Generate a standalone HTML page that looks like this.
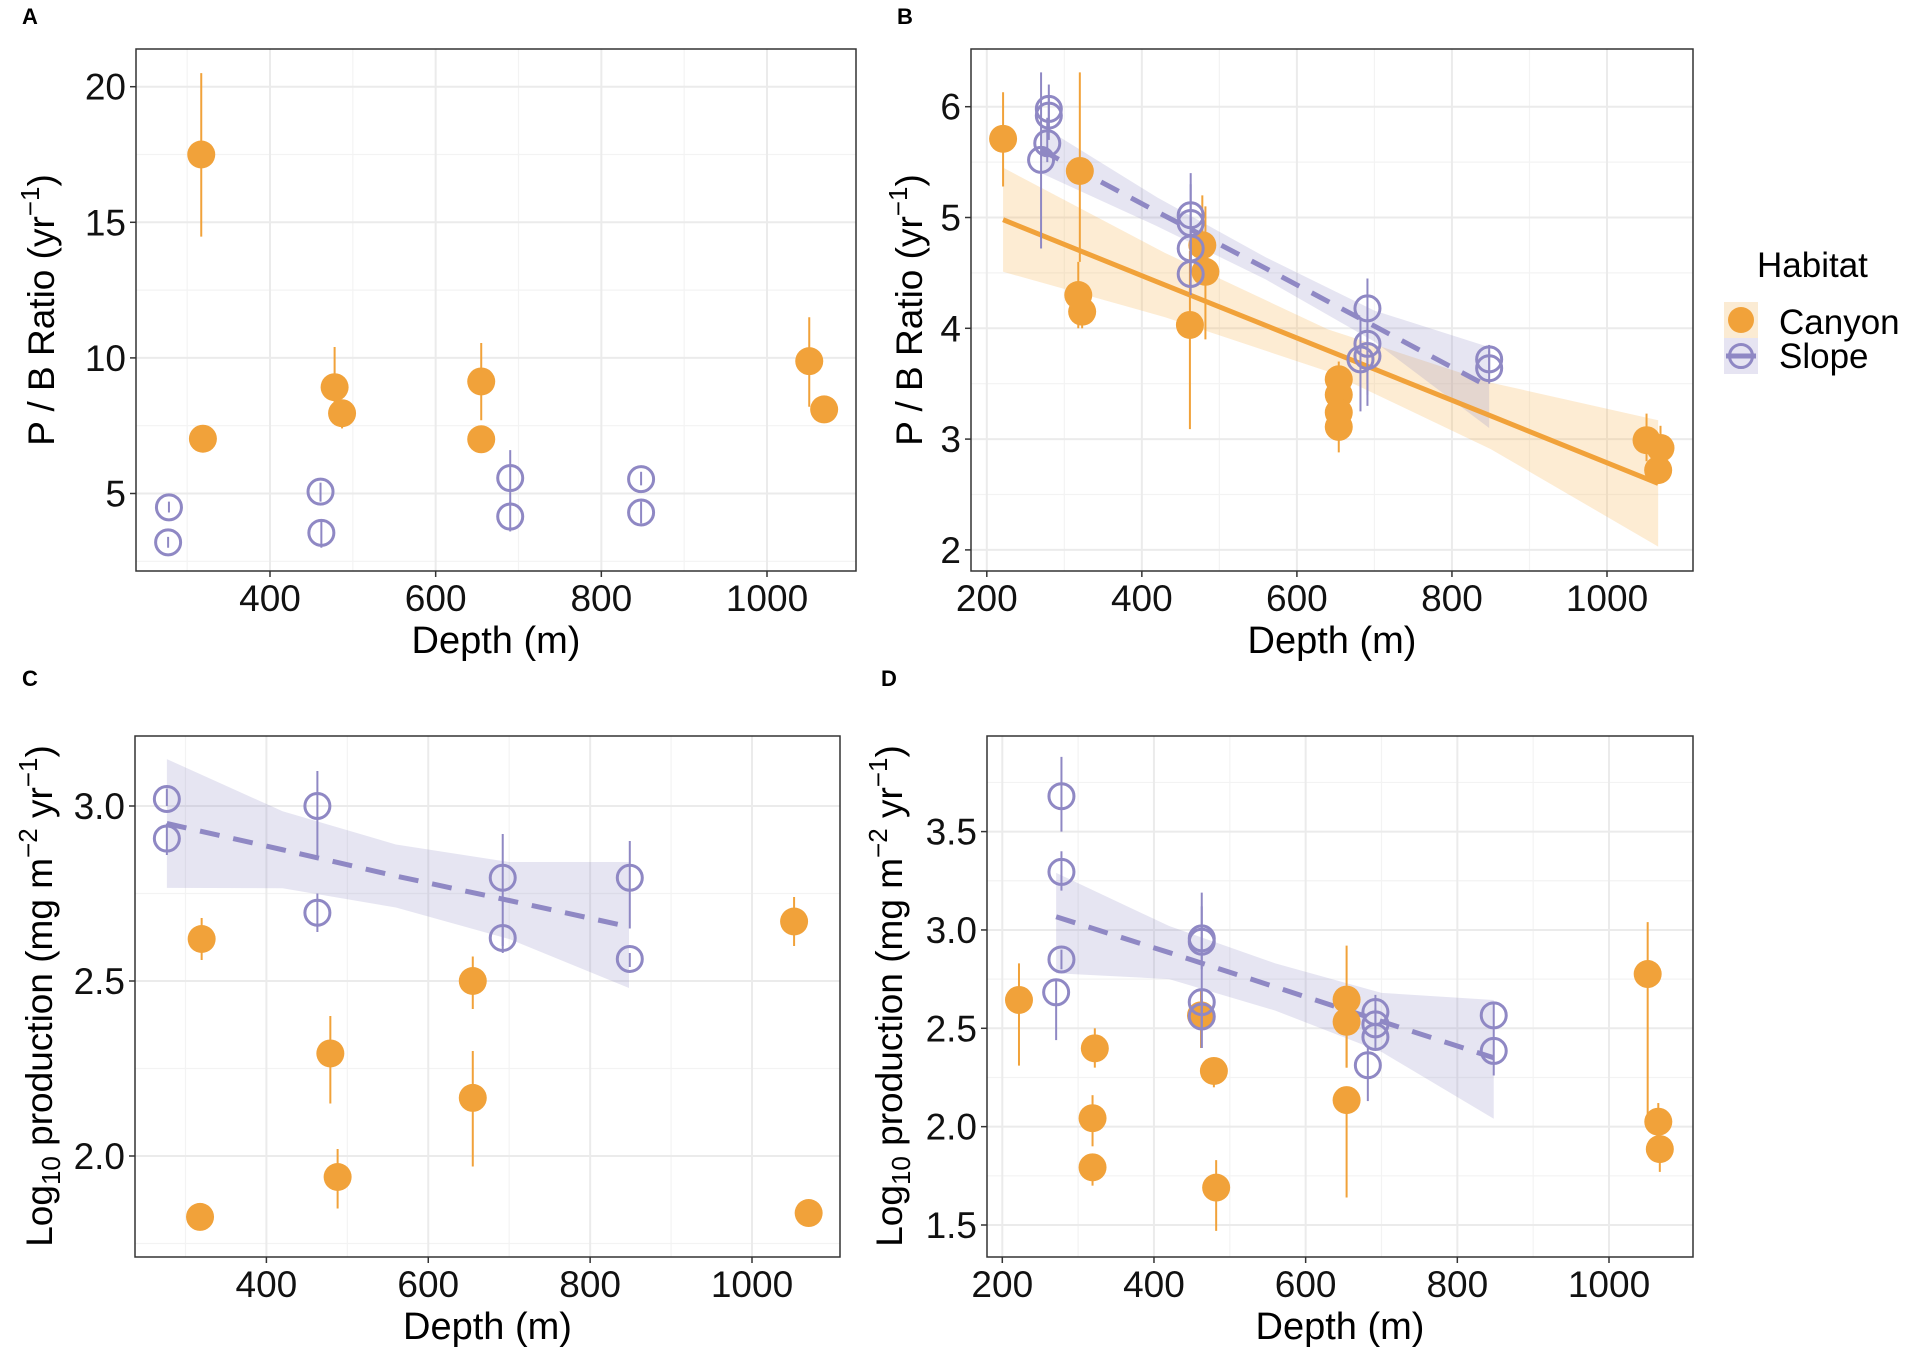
<!DOCTYPE html>
<html><head><meta charset="utf-8"><style>
html,body{margin:0;padding:0;background:#fff;}
svg{display:block;font-family:"Liberation Sans",Arial,sans-serif;}
</style></head><body>
<svg id="fig" width="1912" height="1351" viewBox="0 0 1912 1351" xmlns="http://www.w3.org/2000/svg"></svg>
<script>
// ---------- Panel A data ----------
const aCanyonDepth=[317,319,478,487,655,655,1051,1069];
const aCanyonVal=[17.5,7.02,8.92,7.96,9.13,7.0,9.88,8.1];
const aCanyonLo=[14.47,6.6,8.0,7.4,7.7,6.6,8.2,7.8];
const aCanyonHi=[20.5,7.5,10.4,8.2,10.55,7.4,11.5,8.4];
const aSlopeDepth=[278,277,461,462,690,690,848,848];
const aSlopeVal=[4.49,3.2,5.07,3.55,5.57,4.15,5.53,4.3];
const aSlopeLo=[4.3,3.0,4.7,3.0,4.6,3.6,5.3,3.9];
const aSlopeHi=[4.7,3.4,5.4,4.0,6.6,4.7,5.8,4.7];
const aXTicks=[400,600,800,1000];
const aYTicks=[5,10,15,20];
// ---------- Panel B data ----------
const bCanyonDepth=[221,320,318,323,462,478,482,654,654,654,654,1051,1069,1066];
const bCanyonVal=[5.71,5.42,4.30,4.15,4.03,4.75,4.51,3.54,3.40,3.24,3.11,2.99,2.92,2.72];
const bCanyonLo=[5.28,4.6,4.0,4.0,3.09,4.4,3.9,3.4,3.3,3.0,2.88,2.8,2.8,2.6];
const bCanyonHi=[6.13,6.31,4.6,4.3,4.7,5.2,5.1,3.7,3.5,3.4,3.3,3.23,3.12,2.9];
const bSlopeDepth=[280,280,278,270,463,463,463,463,691,691,691,682,848,848];
const bSlopeVal=[5.98,5.92,5.67,5.52,5.02,4.95,4.72,4.49,4.18,3.86,3.75,3.72,3.72,3.64];
const bSlopeLo=[5.8,5.7,5.5,4.72,4.6,4.6,4.5,4.3,3.4,3.5,3.3,3.25,3.6,3.5];
const bSlopeHi=[6.2,6.1,5.9,6.31,5.4,5.3,5.0,4.7,4.45,4.1,4.0,4.1,3.85,3.8];
const bCanyonFitX=[221,430,640,850,1066];
const bCanyonFitY=[4.98,4.39,3.80,3.21,2.60];
const bCanyonFitHi=[5.45,4.68,3.99,3.51,3.17];
const bCanyonFitLo=[4.51,4.10,3.61,2.91,2.03];
const bSlopeFitX=[270,420,560,700,848];
const bSlopeFitY=[5.61,5.05,4.54,4.02,3.47];
const bSlopeFitHi=[5.83,5.18,4.64,4.16,3.83];
const bSlopeFitLo=[5.40,4.92,4.44,3.88,3.10];
const bXTicks=[200,400,600,800,1000];
const bYTicks=[2,3,4,5,6];
// ---------- Panel C data ----------
const cCanyonDepth=[320,318,479,488,655,655,1052,1070];
const cCanyonVal=[2.62,1.826,2.293,1.94,2.50,2.166,2.67,1.837];
const cCanyonLo=[2.56,1.80,2.15,1.85,2.42,1.97,2.60,1.82];
const cCanyonHi=[2.68,1.85,2.40,2.02,2.57,2.30,2.74,1.86];
const cSlopeDepth=[277,277,463,463,692,692,849,849];
const cSlopeVal=[3.02,2.907,3.0,2.695,2.795,2.623,2.795,2.563];
const cSlopeLo=[3.0,2.86,2.85,2.64,2.60,2.58,2.65,2.54];
const cSlopeHi=[3.05,2.95,3.10,2.75,2.92,2.66,2.90,2.58];
const cSlopeFitX=[277,420,560,700,848];
const cSlopeFitY=[2.95,2.875,2.80,2.73,2.655];
const cSlopeFitHi=[3.134,2.985,2.89,2.84,2.84];
const cSlopeFitLo=[2.766,2.765,2.71,2.62,2.48];
const cXTicks=[400,600,800,1000];
const cYTicks=[2.0,2.5,3.0];
const cYTickLabels=["2.0","2.5","3.0"];
// ---------- Panel D data ----------
const dCanyonDepth=[222,322,319,319,462,479,482,654,654,654,1051,1065,1067];
const dCanyonVal=[2.644,2.398,2.043,1.793,2.566,2.283,1.69,2.646,2.533,2.135,2.776,2.025,1.886];
const dCanyonLo=[2.31,2.3,1.90,1.70,2.40,2.2,1.47,2.3,2.3,1.64,2.06,1.96,1.77];
const dCanyonHi=[2.83,2.5,2.16,1.85,2.7,2.35,1.83,2.92,2.7,2.2,3.04,2.12,1.95];
const dSlopeDepth=[278,278,278,271,463,463,463,463,692,692,692,682,848,848];
const dSlopeVal=[3.68,3.295,2.85,2.683,2.957,2.94,2.633,2.56,2.583,2.52,2.456,2.312,2.566,2.385];
const dSlopeLo=[3.5,3.2,2.8,2.44,2.8,2.5,2.4,2.4,2.5,2.45,2.4,2.13,2.5,2.26];
const dSlopeHi=[3.88,3.4,2.9,2.75,3.19,3.12,2.7,2.65,2.67,2.6,2.5,2.4,2.63,2.5];
const dSlopeFitX=[271,420,560,700,848];
const dSlopeFitY=[3.067,2.885,2.71,2.535,2.35];
const dSlopeFitHi=[3.29,3.02,2.83,2.68,2.644];
const dSlopeFitLo=[2.78,2.75,2.59,2.38,2.04];
const dXTicks=[200,400,600,800,1000];
const dYTicks=[1.5,2.0,2.5,3.0,3.5];
const dYTickLabels=["1.5","2.0","2.5","3.0","3.5"];

const NS="http://www.w3.org/2000/svg";
const svg=document.getElementById('fig');
const OR="#F1A23A", PU="#8F88C4";
function mk(tag,attrs,parent){const e=document.createElementNS(NS,tag);for(const k in attrs)e.setAttribute(k,attrs[k]);(parent||svg).appendChild(e);return e;}
function lin(v1,p1,v2,p2){return v=>p1+(v-v1)*(p2-p1)/(v2-v1);}

function panel(cfg){
  const g=mk('g',{});
  
  
  const [L,T,R,B]=cfg.box;
  const sx=cfg.sx, sy=cfg.sy;
  cfg.xMinor.forEach(v=>{const x=sx(v);if(x>L&&x<R){const l=mk('line',{x1:x,x2:x,y1:T,y2:B,stroke:'#F3F3F3','stroke-width':1.2},g);}});
  cfg.yMinor.forEach(v=>{const y=sy(v);if(y>T&&y<B){const l=mk('line',{x1:L,x2:R,y1:y,y2:y,stroke:'#F3F3F3','stroke-width':1.2},g);}});
  cfg.xTicks.forEach(v=>{const x=sx(v);const l=mk('line',{x1:x,x2:x,y1:T,y2:B,stroke:'#EBEBEB','stroke-width':2},g);});
  cfg.yTicks.forEach(v=>{const y=sy(v);const l=mk('line',{x1:L,x2:R,y1:y,y2:y,stroke:'#EBEBEB','stroke-width':2},g);});
  (cfg.fits||[]).forEach(f=>{
    let pts=f.x.map((d,i)=>sx(d)+','+sy(f.hi[i]));
    pts=pts.concat(f.x.slice().reverse().map((d,i)=>sx(d)+','+sy(f.lo[f.x.length-1-i])));
    const p=mk('polygon',{points:pts.join(' '),fill:f.fill},g);
    
    
  });
  (cfg.fits||[]).forEach(f=>{
    const pl=mk('polyline',{points:f.x.map((d,i)=>sx(d)+','+sy(f.y[i])).join(' '),fill:'none',stroke:f.color,'stroke-width':5,'stroke-dasharray':f.dash||'none'},g);
    
    
  });
  cfg.series.forEach(s=>{
    s.d.forEach((d,i)=>{
      const x=sx(d);
      const eb=mk('line',{x1:x,x2:x,y1:sy(s.lo[i]),y2:sy(s.hi[i]),stroke:s.color,'stroke-width':2},g);
      
      
    });
    s.d.forEach((d,i)=>{
      const x=sx(d),y=sy(s.v[i]);
      let c;
      if(s.filled) c=mk('circle',{cx:x,cy:y,r:14,fill:s.color},g);
      else c=mk('circle',{cx:x,cy:y,r:12.5,fill:'none',stroke:s.color,'stroke-width':3},g);
      
      
    });
  });
  const bx=mk('rect',{x:L,y:T,width:R-L,height:B-T,fill:'none',stroke:'#333','stroke-width':1.5},g);
  
  
  cfg.xTicks.forEach((v,i)=>{const x=sx(v);
    mk('line',{x1:x,x2:x,y1:B,y2:B+6,stroke:'#333','stroke-width':1.5},g);
    const t=mk('text',{x:x,y:B+40,'font-size':37,'text-anchor':'middle',fill:'#111'},g);
    t.textContent=String(v);
    
    
  });
  cfg.yTicks.forEach((v,i)=>{const y=sy(v);
    mk('line',{x1:L-6,x2:L,y1:y,y2:y,stroke:'#333','stroke-width':1.5},g);
    const t=mk('text',{x:L-10,y:y+13,'font-size':37,'text-anchor':'end',fill:'#111'},g);
    t.textContent=cfg.yLabels?cfg.yLabels[i]:String(v);
    
    
  });
  const xt=mk('text',{x:(L+R)/2,y:B+82,'font-size':38,'text-anchor':'middle',fill:'#000'},g);
  xt.textContent='Depth (m)';
  
  
  const yt=mk('text',{transform:`translate(${cfg.ytX},${cfg.ytY}) rotate(-90)`,'font-size':37,'text-anchor':'middle',fill:'#000'},g);
  yt.innerHTML=cfg.ytHTML;
  
  
  const pl=mk('text',{x:cfg.lx,y:cfg.ly,'font-size':22,'font-weight':'bold',fill:'#000'},g);
  pl.textContent=cfg.letter;
  
  
}
const pbTitle='P / B Ratio (yr<tspan dy="-15" font-size="26">−1</tspan><tspan dy="15">)</tspan>';
const prodTitle='Log<tspan dy="8" font-size="26">10</tspan><tspan dy="-8"> production (mg m</tspan><tspan dy="-15" font-size="26">−2</tspan><tspan dy="15"> yr</tspan><tspan dy="-15" font-size="26">−1</tspan><tspan dy="15">)</tspan>';
const ORF='rgba(246,178,80,0.25)', PUF='rgba(143,136,196,0.22)';

panel({name:'panel-a',letter:'A',lx:22,ly:24,box:[136,49,856,571],
  sx:lin(400,270,1000,767),sy:lin(20,86.7,5,493.5),
  xTicks:aXTicks,yTicks:aYTicks,xMinor:[300,500,700,900],yMinor:[2.5,7.5,12.5,17.5],
  series:[{kind:'canyon',filled:true,color:OR,d:aCanyonDepth,v:aCanyonVal,lo:aCanyonLo,hi:aCanyonHi},
          {kind:'slope',filled:false,color:PU,d:aSlopeDepth,v:aSlopeVal,lo:aSlopeLo,hi:aSlopeHi}],
  ytX:54,ytY:310,ytHTML:pbTitle});
panel({name:'panel-b',letter:'B',lx:897,ly:24,box:[971,49,1693,571],
  sx:lin(200,986.8,1000,1607),sy:lin(6,106.7,2,549.9),
  xTicks:bXTicks,yTicks:bYTicks,xMinor:[300,500,700,900],yMinor:[2.5,3.5,4.5,5.5],
  fits:[{kind:'canyon',x:bCanyonFitX,y:bCanyonFitY,hi:bCanyonFitHi,lo:bCanyonFitLo,fill:ORF,color:OR},
        {kind:'slope',x:bSlopeFitX,y:bSlopeFitY,hi:bSlopeFitHi,lo:bSlopeFitLo,fill:PUF,color:PU,dash:'20 14'}],
  series:[{kind:'canyon',filled:true,color:OR,d:bCanyonDepth,v:bCanyonVal,lo:bCanyonLo,hi:bCanyonHi},
          {kind:'slope',filled:false,color:PU,d:bSlopeDepth,v:bSlopeVal,lo:bSlopeLo,hi:bSlopeHi}],
  ytX:922,ytY:310,ytHTML:pbTitle});
panel({name:'panel-c',letter:'C',lx:22,ly:686,box:[135,736,840,1257],
  sx:lin(400,266.4,1000,752),sy:lin(3,806,2,1156),
  xTicks:cXTicks,yTicks:cYTicks,yLabels:cYTickLabels,xMinor:[300,500,700,900],yMinor:[1.75,2.25,2.75],
  fits:[{kind:'slope',x:cSlopeFitX,y:cSlopeFitY,hi:cSlopeFitHi,lo:cSlopeFitLo,fill:PUF,color:PU,dash:'20 14'}],
  series:[{kind:'canyon',filled:true,color:OR,d:cCanyonDepth,v:cCanyonVal,lo:cCanyonLo,hi:cCanyonHi},
          {kind:'slope',filled:false,color:PU,d:cSlopeDepth,v:cSlopeVal,lo:cSlopeLo,hi:cSlopeHi}],
  ytX:52,ytY:996,ytHTML:prodTitle});
panel({name:'panel-d',letter:'D',lx:881,ly:686,box:[987,736,1693,1257],
  sx:lin(200,1002.3,1000,1609),sy:lin(3.5,831.6,1.5,1225),
  xTicks:dXTicks,yTicks:dYTicks,yLabels:dYTickLabels,xMinor:[300,500,700,900],yMinor:[1.75,2.25,2.75,3.25,3.75],
  fits:[{kind:'slope',x:dSlopeFitX,y:dSlopeFitY,hi:dSlopeFitHi,lo:dSlopeFitLo,fill:PUF,color:PU,dash:'20 14'}],
  series:[{kind:'canyon',filled:true,color:OR,d:dCanyonDepth,v:dCanyonVal,lo:dCanyonLo,hi:dCanyonHi},
          {kind:'slope',filled:false,color:PU,d:dSlopeDepth,v:dSlopeVal,lo:dSlopeLo,hi:dSlopeHi}],
  ytX:902,ytY:996,ytHTML:prodTitle});
</script>
<svg style="position:absolute;left:0;top:0" width="1912" height="1351">
  <text x="1757" y="277" font-size="35" font-family="Liberation Sans, sans-serif">Habitat</text>
  <g>
    <rect x="1724" y="302" width="34" height="36" fill="#FBEBD3"/>
    <circle cx="1741" cy="320" r="13" fill="#F1A23A"/>
    <text x="1779" y="334" font-size="35" font-family="Liberation Sans, sans-serif">Canyon</text>
  </g>
  <g>
    <rect x="1724" y="338" width="34" height="36" fill="#E6E4F2"/>
    <circle cx="1741" cy="356" r="11.5" fill="none" stroke="#8F88C4" stroke-width="3"/>
    <line x1="1726" x2="1756" y1="356" y2="356" stroke="#8F88C4" stroke-width="5"/>
    <text x="1779" y="368" font-size="35" font-family="Liberation Sans, sans-serif">Slope</text>
  </g>
</svg>
</body></html>
